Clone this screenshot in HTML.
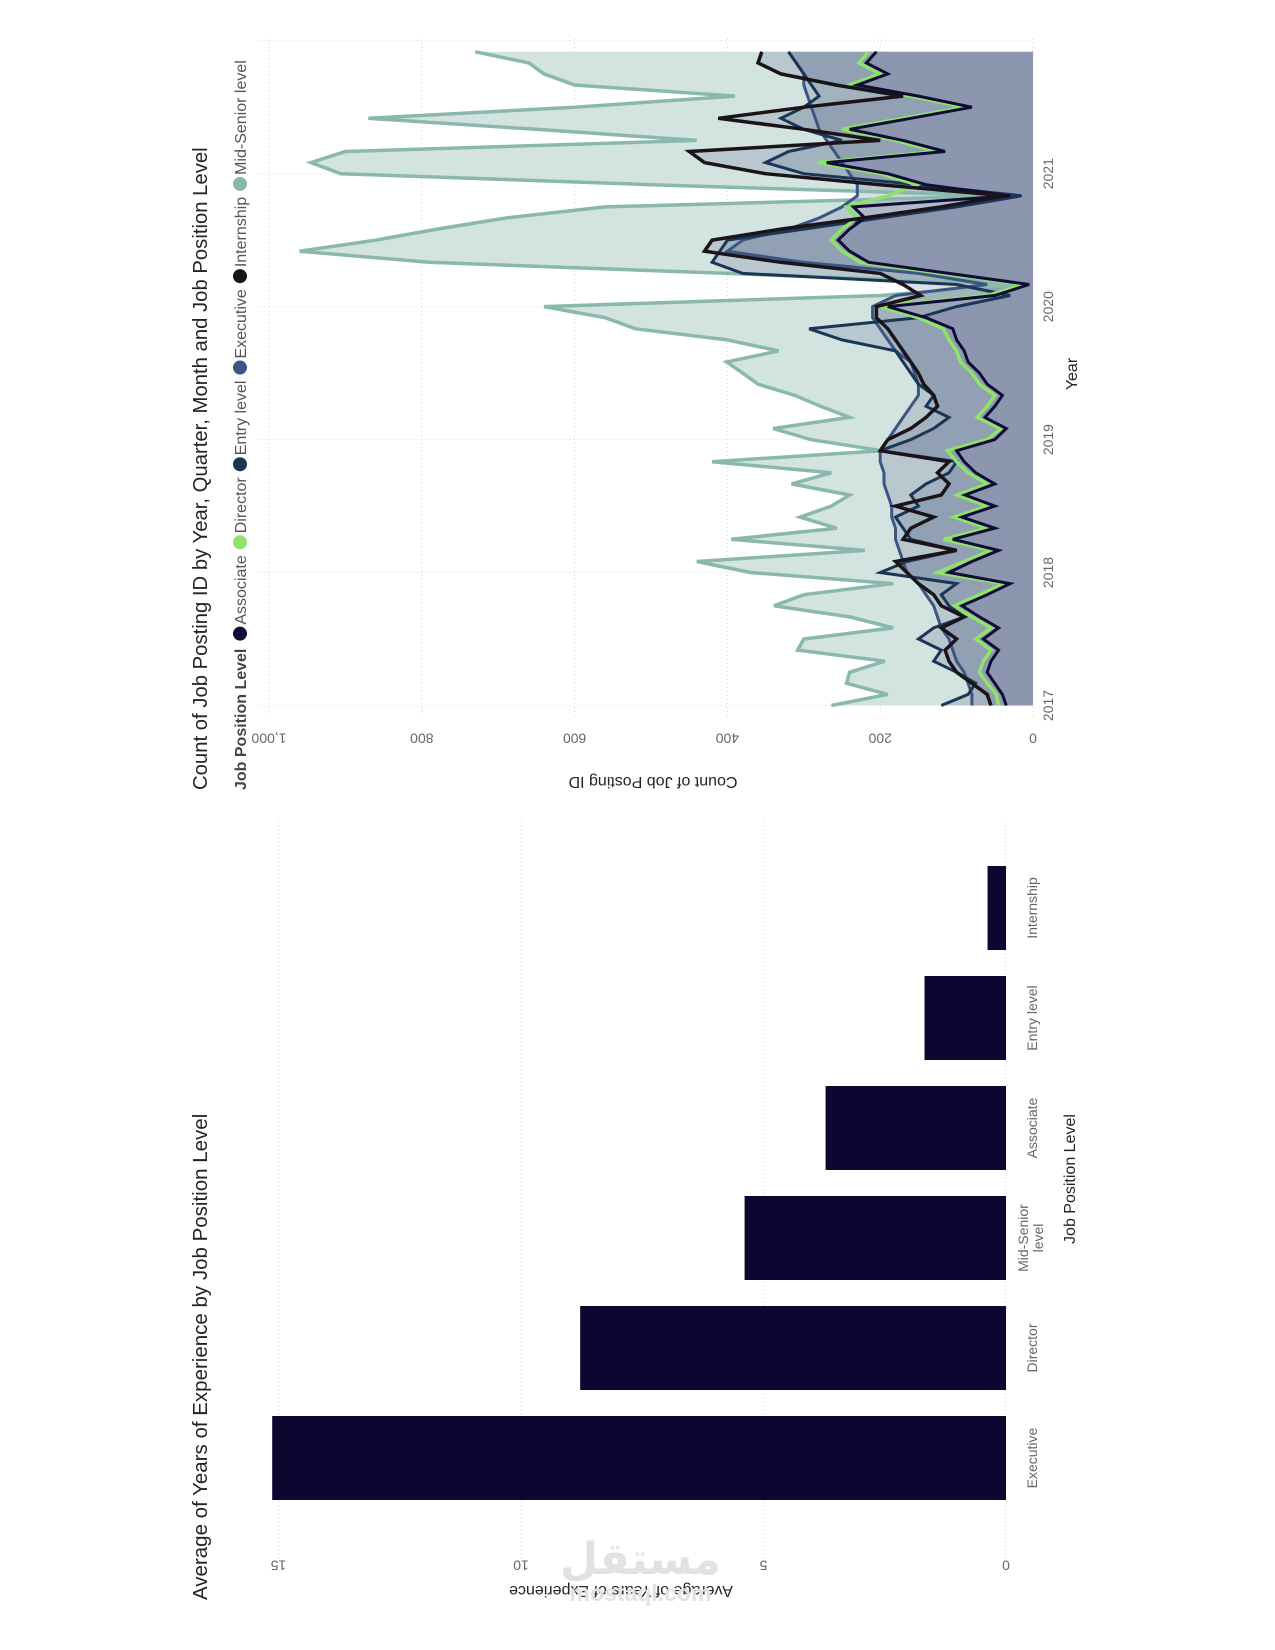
<!DOCTYPE html>
<html><head><meta charset="utf-8">
<style>
html,body{margin:0;padding:0;background:#fff;}
body{width:1275px;height:1650px;overflow:hidden;position:relative;font-family:"Liberation Sans",sans-serif;}
#land{position:absolute;left:0;top:0;width:1650px;height:1275px;transform-origin:0 0;transform:translateY(1650px) rotate(-90deg);}
#wm{position:absolute;left:560px;top:1538px;color:#e2e2e2;font-weight:bold;text-align:center;line-height:1;}
</style></head>
<body>
<div id="land">
<svg id="svg" width="1650" height="1275" xmlns="http://www.w3.org/2000/svg"></svg>
</div>
<div id="wm"><div style="font-size:44px;font-family:'DejaVu Sans',sans-serif">مستقل</div><div style="font-size:23px">mostaql.com</div></div>
<script>
// ---- bar chart data ----
const barCategories = ["Executive","Director","Mid-Senior level","Associate","Entry level","Internship"];
const barValues = [15.13, 8.78, 5.39, 3.72, 1.68, 0.38];
const barTicks = [0,5,10,15];
// ---- line chart data ----
const yearLabels = ["2017","2018","2019","2020","2021"];
const countTicks = [0,200,400,600,800,1000];
const seriesNames = ["Associate","Director","Entry level","Executive","Internship","Mid-Senior level"];
const midSenior = [264,190,244,240,194,308,300,183,240,339,300,183,
 370,440,220,395,257,305,264,240,316,264,420,198,
 291,340,240,278,312,360,380,401,333,400,520,560,
 640,200,15,400,790,960,860,780,690,560,40,500,
 906,945,900,440,650,870,600,390,600,640,660,730];
const director = [45,48,60,70,65,55,75,55,80,103,70,38,
 125,90,55,117,60,103,60,99,60,85,100,112,
 60,42,73,60,50,70,80,95,100,110,117,150,
 200,60,11,120,226,250,264,250,230,244,190,152,
 200,282,125,180,250,170,90,160,240,200,228,215];
const associate = [35,40,50,60,55,45,65,45,70,93,60,30,
 110,80,45,105,50,93,50,89,50,75,90,100,
 50,35,63,50,40,60,70,85,90,100,105,140,
 190,50,5,110,215,240,255,240,220,235,30,140,
 190,270,115,170,240,160,80,150,230,190,218,205];
const internship = [55,60,80,100,110,115,100,120,90,120,130,150,
 165,180,100,170,160,130,180,120,110,125,110,200,
 190,160,140,125,130,143,150,160,170,180,190,205,
 205,147,170,200,330,430,420,330,222,120,37,200,
 350,430,450,200,300,412,300,170,258,330,360,355];
const entryLevel = [120,85,75,100,130,120,150,130,90,110,120,100,
 200,165,100,160,170,180,150,160,140,110,100,200,
 160,130,110,140,130,150,160,170,180,250,293,150,
 100,30,100,380,420,410,400,300,200,100,15,150,
 300,350,320,250,300,330,300,280,290,300,310,320];
const executive = [80,80,85,90,100,105,110,120,125,130,140,150,
 165,170,175,180,180,185,185,190,195,195,200,200,
 190,180,170,160,150,150,155,160,180,190,200,210,
 210,180,60,150,300,400,380,320,280,250,230,230,
 240,250,260,270,280,285,290,295,300,300,310,320];

const NS="http://www.w3.org/2000/svg";
const svg=document.getElementById('svg');
function mk(tag,attrs,parent){const e=document.createElementNS(NS,tag);for(const k in attrs)e.setAttribute(k,attrs[k]);(parent||svg).appendChild(e);return e;}
function txt(s,attrs,parent){const t=mk('text',attrs,parent);t.textContent=s;return t;}

// ===== BAR CHART =====
const bx0=92, bx1=829, bBase=1006, bPer=48.5, bandW=110, bandStart=137;
const bv=v=>bBase-v*bPer;
const bu=i=>bandStart+bandW*i+bandW/2;
let t=txt("Average of Years of Experience by Job Position Level",{x:50,y:207,'font-size':20.5,fill:'#252423'});

barTicks.forEach(v=>{
 const g=mk('line',{x1:bx0,x2:bx1,y1:bv(v),y2:bv(v),stroke:'#d0d0d0','stroke-dasharray':'1,3','stroke-width':1});
 
 const l=txt(String(v),{x:86,y:bv(v),'font-size':14,fill:'#666','text-anchor':'middle',transform:`rotate(-90 86 ${bv(v)})`,'dominant-baseline':'middle'});
 
});
t=txt("Average of Years of Experience",{x:60,y:621,'font-size':16,fill:'#252423','text-anchor':'middle',transform:'rotate(-90 60 621)','dominant-baseline':'middle'});

barCategories.forEach((c,i)=>{
 const w=84, h=barValues[i]*bPer;
 const r=mk('rect',{x:bu(i)-w/2,y:bBase-h,width:w,height:h,fill:'#0c0630'});
 
 if(c==="Mid-Senior level"){
  const l=txt("",{x:bu(i),y:1028,'font-size':14,fill:'#666','text-anchor':'middle'});
  
  const a=mk('tspan',{x:bu(i),dy:0});a.textContent="Mid-Senior";l.appendChild(a);
  const b=mk('tspan',{x:bu(i),dy:15});b.textContent="level";l.appendChild(b);
 } else {
  const l=txt(c,{x:bu(i),y:1037,'font-size':14,fill:'#666','text-anchor':'middle'});
  
 }
});
t=txt("Job Position Level",{x:471,y:1075,'font-size':16,fill:'#252423','text-anchor':'middle'});


// ===== LINE CHART =====
const lu0=944.5, perMonth=11.08, lBase=1033, lPer=0.764;
const lx=i=>lu0+i*perMonth;
const ly=v=>lBase-v*lPer;
t=txt("Count of Job Posting ID by Year, Quarter, Month and Job Position Level",{x:860,y:207,'font-size':20.3,fill:'#252423'});

const colors={"Associate":"#0f0c38","Director":"#8fe36a","Entry level":"#1b3556","Executive":"#3c5582","Internship":"#1a1418","Mid-Senior level":"#8ab8ad"};
let lgx=860;
t=txt("Job Position Level",{x:lgx,y:246,'font-size':16,'font-weight':'bold',fill:'#444'});

lgx+=t.getComputedTextLength()+8;
seriesNames.forEach(n=>{
 const c=mk('circle',{cx:lgx+7,cy:240,r:7,fill:colors[n]});
 
 const l=txt(n,{x:lgx+16,y:246,'font-size':16,fill:'#555'});
 
 lgx+=16+l.getComputedTextLength()+6;
});
countTicks.forEach(v=>{
 const g=mk('line',{x1:934,x2:1612,y1:ly(v),y2:ly(v),stroke:'#d6d6d6','stroke-dasharray':'1,3'});
 
 const l=txt(v.toLocaleString('en-US'),{x:913,y:ly(v),'font-size':14,fill:'#666','text-anchor':'middle',transform:`rotate(-90 913 ${ly(v)})`,'dominant-baseline':'middle'});
 
});
for(let k=0;k<=yearLabels.length;k++){
 const u=lx(k*12);
 const g=mk('line',{x1:u,x2:u,y1:ly(1000)-12,y2:lBase,stroke:'#d6d6d6','stroke-dasharray':'1,3'});
 
 if(k<yearLabels.length){
  const l=txt(yearLabels[k],{x:u,y:1053,'font-size':14,fill:'#666','text-anchor':'middle'});
  
 }
}
t=txt("Count of Job Posting ID",{x:869,y:653,'font-size':16,fill:'#252423','text-anchor':'middle',transform:'rotate(-90 869 653)','dominant-baseline':'middle'});

t=txt("Year",{x:1276,y:1077,'font-size':16,fill:'#252423','text-anchor':'middle'});


const seriesData={"Mid-Senior level":midSenior,"Executive":executive,"Entry level":entryLevel,"Director":director,"Associate":associate,"Internship":internship};
const order=["Mid-Senior level","Executive","Entry level","Director","Associate","Internship"];
const fillCol={"Mid-Senior level":"#d3e4e0","Executive":"#4e5a88","Entry level":"#4e5a88","Internship":"#4e5a88","Director":"#6a4f8a","Associate":"#6a4f8a"};
const fillOp={"Mid-Senior level":1,"Executive":0.2,"Entry level":0.2,"Internship":0.2,"Director":0.06,"Associate":0.06};
order.forEach(n=>{
 const d=seriesData[n];
 const pts=d.map((v,i)=>lx(i).toFixed(1)+','+ly(v).toFixed(1));
 const area=mk('polygon',{points:lx(0)+','+lBase+' '+pts.join(' ')+' '+lx(d.length-1)+','+lBase,fill:fillCol[n],'fill-opacity':fillOp[n],stroke:'none'});
 
});
order.forEach(n=>{
 const d=seriesData[n];
 const pts=d.map((v,i)=>lx(i).toFixed(1)+','+ly(v).toFixed(1)).join(' ');
 const w=(n==="Internship"||n==="Director"||n==="Mid-Senior level")?3.5:3;
 const line=mk('polyline',{points:pts,fill:'none',stroke:colors[n],'stroke-width':w,'stroke-linejoin':'miter'});
 
});
</script>
</body></html>
